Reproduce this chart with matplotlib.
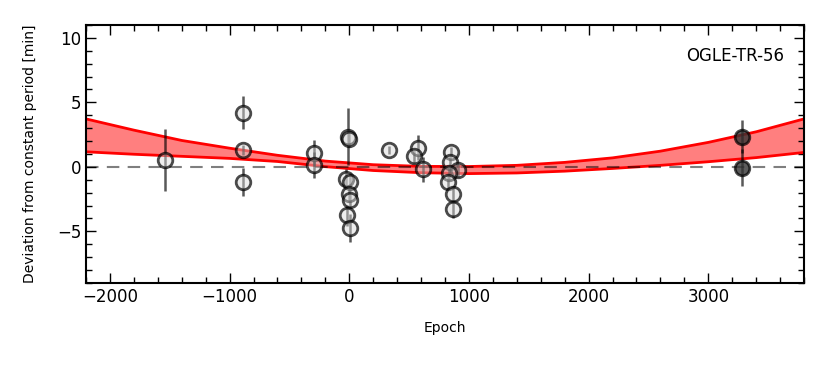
import numpy as np
import matplotlib
matplotlib.use('Agg')
import matplotlib.pyplot as plt
from matplotlib.ticker import MultipleLocator

#%% Data
epoch = [-1537, -891, -891, -891, -292, -292,
         -8, 0, -28, 6, 0, 2, -19, 6,
         334, 571, 543, 612,
         850, 841, 905, 835, 821, 869, 869]
dev = [0.52, 4.20, 1.30, -1.15, 1.05, 0.15,
       2.34, 2.13, -0.90, -1.17, -2.10, -2.60, -3.76, -4.72,
       1.30, 1.50, 0.83, -0.20,
       1.17, 0.39, -0.26, -0.51, -1.17, -2.07, -3.24]
err = [2.4, 1.3, 0.4, 1.1, 1.0, 1.0,
       2.2, 0.6, 0.7, 0.7, 0.6, 0.6, 0.8, 1.1,
       0.3, 1.0, 0.5, 1.0,
       0.4, 0.5, 0.5, 0.5, 0.6, 0.6, 0.7]

# latest epoch (dark points)
epoch_new = [3286, 3286]
dev_new = [2.34, -0.05]
err_new = [1.3, 1.45]

# quadratic ephemeris band (edges)
band_epoch = [-2200, -1800, -1400, -1000, -600, -200, 200, 600, 1000,
              1400, 1800, 2200, 2600, 3000, 3400, 3800]
band_upper = [3.72, 2.85, 2.05, 1.45, 0.90, 0.45, 0.17, 0.04, 0.03,
              0.12, 0.35, 0.70, 1.22, 1.90, 2.72, 3.72]
band_lower = [1.17, 0.98, 0.82, 0.66, 0.42, 0.02, -0.28, -0.45, -0.52,
              -0.47, -0.33, -0.12, 0.12, 0.40, 0.72, 1.12]

#%% Plot
fig = plt.figure(figsize=(8.3, 3.66), dpi=100)
ax = fig.add_axes([86/830, 1-283/366, 718/830, 258/366])

ax.fill_between(band_epoch, band_lower, band_upper, color='red', alpha=0.5, lw=0, zorder=1)
ax.plot(band_epoch, band_upper, color='red', lw=2, zorder=2)
ax.plot(band_epoch, band_lower, color='red', lw=2, zorder=2)
ax.axhline(0, color='k', alpha=0.5, ls=(0, (6, 4)), lw=1.5, zorder=3)

ax.errorbar(epoch, dev, yerr=err, fmt='o', ms=10.5, mfc=(0.85, 0.85, 0.85, 0.45),
            mec=(0, 0, 0, 0.7), mew=2, ecolor=(0, 0, 0, 0.65), elinewidth=1.8,
            capsize=0, zorder=4)
ax.errorbar(epoch_new, dev_new, yerr=err_new, fmt='o', ms=10.5, mfc=(0.2, 0.2, 0.2, 0.8),
            mec=(0, 0, 0, 0.7), mew=2, ecolor=(0, 0, 0, 0.65), elinewidth=1.8,
            capsize=0, zorder=4)

ax.set_xlim(-2200, 3800)
ax.set_ylim(-9, 11)
ax.xaxis.set_major_locator(MultipleLocator(1000))
ax.xaxis.set_minor_locator(MultipleLocator(200))
ax.yaxis.set_major_locator(MultipleLocator(5))
ax.yaxis.set_minor_locator(MultipleLocator(1))
ax.tick_params(which='both', direction='in', top=True, right=True, labelsize=12, width=1)
ax.tick_params(which='major', length=7)
ax.tick_params(which='minor', length=4)
for s in ax.spines.values():
    s.set_linewidth(1.5)

ax.set_xlabel('Epoch', fontsize=10, labelpad=11)
ax.set_ylabel('Deviation from constant period [min]', fontsize=10, labelpad=14)
ax.text(0.972, 0.878, 'OGLE-TR-56', transform=ax.transAxes, ha='right', va='center', fontsize=12)

fig.savefig('out.png', dpi=100)
